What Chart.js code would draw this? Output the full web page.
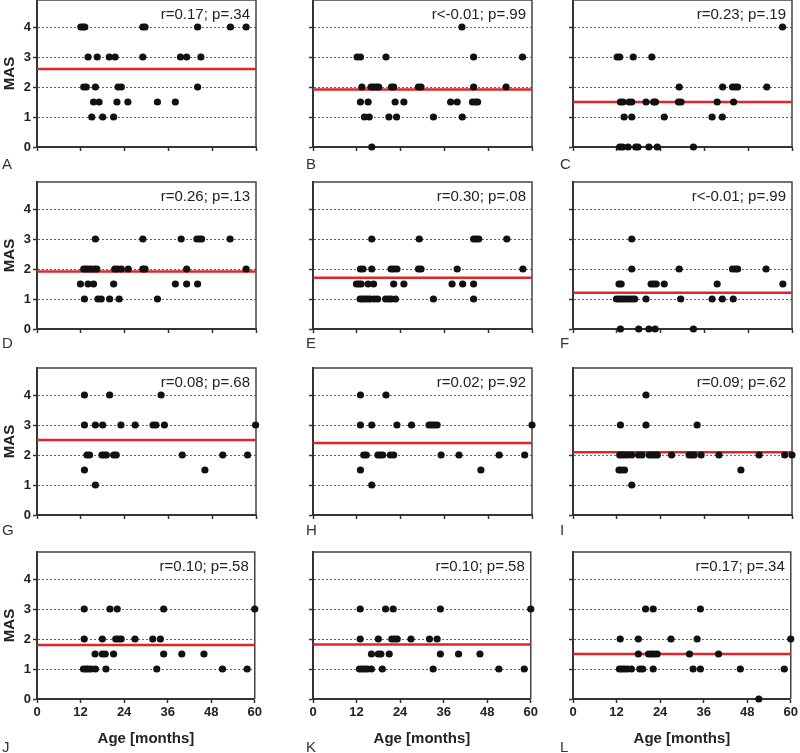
<!DOCTYPE html>
<html>
<head>
<meta charset="utf-8">
<script src="https://cdn.jsdelivr.net/npm/chart.js@4.4.1/dist/chart.umd.min.js"></script>
<style>
  body { margin: 0; width: 800px; height: 753px; overflow: hidden; background: #fff; position: relative;
         font-family: "Liberation Sans", Arial, sans-serif; }
  canvas { position: absolute; }
  .tag { position: absolute; font-size: 15px; line-height: 15px; color: #333; }
</style>
</head>
<body>
<script>
// each row: [MAS level, age in months, age, ...]
const panelA = [
  [4, 12, 12.6, 13.1, 29, 29.6, 44, 53, 57.3],
  [3, 14, 16.5, 19.8, 21.4, 29, 39.3, 41, 44.9],
  [2, 12.8, 13.5, 16, 22.2, 23.1, 44],
  [1.5, 15.5, 17, 21.9, 24.9, 33, 37.9],
  [1, 15, 18, 21],
];
const panelB = [
  [4, 40.8],
  [3, 12.1, 13, 20, 44, 57.4],
  [2, 13.4, 15.9, 16.6, 17.4, 18, 21.5, 22.1, 28.9, 29.6, 44, 52.9],
  [1.5, 13, 15.1, 22.5, 24.9, 37.7, 39.5, 43.7, 44.5, 45.1],
  [1, 14.1, 15.4, 20.8, 22.9, 33, 40.9],
  [0, 16.1],
];
const panelC = [
  [4, 57.4],
  [3, 12.1, 12.8, 16.5, 21.6],
  [2, 29.1, 41, 43.7, 44.5, 45.1, 53.1],
  [1.5, 13, 13.7, 15.4, 16.1, 20, 22.1, 22.6, 28.9, 29.6, 39.5, 44],
  [1, 14, 16.1, 25, 38.1, 40.9],
  [0, 12.8, 13.6, 15.1, 17.2, 17.8, 20.8, 23.1, 33],
];
const panelD = [
  [3, 16, 29, 39.5, 43.8, 44.5, 45.1, 52.9],
  [2, 12.8, 13.5, 14.2, 14.9, 15.8, 16.4, 21.3, 22.1, 23.1, 25, 29, 29.6, 41, 57.3],
  [1.5, 11.9, 14, 15.5, 21, 37.9, 41, 44],
  [1, 13, 16.7, 17.6, 19.9, 22.5, 33],
];
const panelE = [
  [3, 16.1, 29.1, 44, 44.7, 45.4, 53.1],
  [2, 13, 13.7, 16.1, 21.4, 22.1, 23, 28.9, 29.6, 39.5, 57.5],
  [1.5, 11.9, 12.6, 13.2, 15.1, 16.6, 22.1, 24.9, 38.1, 41, 44],
  [1, 12.9, 13.6, 14.2, 15, 15.7, 16.8, 17.7, 19.9, 20.7, 21.4, 22.6, 33, 44],
];
const panelF = [
  [3, 16.1],
  [2, 16.1, 29.1, 43.7, 44.5, 45.1, 52.9],
  [1.5, 12.6, 13.2, 21.4, 22.1, 22.8, 25, 39.5, 57.5],
  [1, 11.9, 12.6, 13.3, 14, 14.8, 15.5, 16.2, 16.9, 20, 29.5, 38.1, 40.9, 43.9],
  [0, 13, 18, 20.8, 22.5, 33],
];
const panelG = [
  [4, 13, 19.9, 34],
  [3, 13, 16, 18, 23, 26.9, 31.8, 32.6, 34.9, 59.9],
  [2, 13.7, 14.4, 17.8, 18.4, 19, 21, 21.7, 39.8, 50.9, 57.7],
  [1.5, 13, 46],
  [1, 16],
];
const panelH = [
  [4, 13, 20],
  [3, 13, 16.1, 23, 27, 31.8, 32.5, 33.2, 34, 60],
  [2, 13.9, 14.6, 17.8, 18.4, 19.1, 21.2, 22.1, 35.1, 40, 51, 58],
  [1.5, 13, 46],
  [1, 16.1],
];
const panelI = [
  [4, 20],
  [3, 13, 20, 34],
  [2, 12.8, 13.5, 14.2, 15, 16.1, 18, 18.9, 20.9, 21.6, 22.4, 23.1, 27, 31.8, 32.5, 33.2, 35.1, 40, 51, 58, 60],
  [1.5, 12.6, 13.3, 14.1, 46],
  [1, 16.1],
];
const panelJ = [
  [3, 13, 20.1, 22.1, 34.9, 60],
  [2, 13, 18, 21.7, 22.4, 23.2, 27, 31.9, 34],
  [1.5, 16, 18, 18.8, 21.1, 34.9, 39.9, 46],
  [1, 12.8, 13.5, 14.1, 14.9, 16.1, 19, 33, 51.1, 57.9],
];
const panelK = [
  [3, 13, 20, 22.1, 35.1, 60],
  [2, 13, 18, 21.7, 22.5, 23.2, 27, 32.1, 34.2],
  [1.5, 16.1, 18, 18.7, 21, 35.1, 40.1, 46],
  [1, 12.8, 13.5, 14.2, 15, 16.1, 19.1, 33.1, 51.2, 58.2],
];
const panelL = [
  [3, 20, 22.1, 35.1],
  [2, 13, 18, 27, 34.2, 60],
  [1.5, 18, 20.8, 21.6, 22.3, 23.2, 32.1, 40.1],
  [1, 12.8, 13.5, 14.2, 15, 16.1, 18.4, 19.2, 22.1, 33.1, 35.1, 46.1, 58.2],
  [0, 51.2],
];

const panels = [panelA, panelB, panelC, panelD, panelE, panelF, panelG, panelH, panelI, panelJ, panelK, panelL];
const letters = ["A", "B", "C", "D", "E", "F", "G", "H", "I", "J", "K", "L"];
const meanMAS = [2.6, 1.92, 1.5, 1.92, 1.71, 1.21, 2.5, 2.4, 2.09, 1.8, 1.82, 1.5];
const corrText = [
  "r=0.17; p=.34", "r<-0.01; p=.99", "r=0.23; p=.19",
  "r=0.26; p=.13", "r=0.30; p=.08", "r<-0.01; p=.99",
  "r=0.08; p=.68", "r=0.02; p=.92", "r=0.09; p=.62",
  "r=0.10; p=.58", "r=0.10; p=.58", "r=0.17; p=.34",
];
const ageTicks = [0, 12, 24, 36, 48, 60];

// layout of the grid
const plotLeft = [37, 313, 573];
const plotTop = [0, 182, 368, 552];
const plotW = 219;
const plotH = 147;
const letterLeft = [2, 306, 560];
const letterBase = [169, 348, 535, 752];

Chart.defaults.font.family = '"Liberation Sans", Arial, sans-serif';

// top/right frame + correlation text
const corrPlugin = {
  id: "corr",
  beforeDatasetsDraw(chart, args, opts) {
    const { ctx, chartArea: a } = chart;
    ctx.save();
    ctx.strokeStyle = "#444";
    ctx.lineWidth = 1.5;
    ctx.beginPath();
    ctx.moveTo(a.left, a.top);
    ctx.lineTo(a.right, a.top);
    ctx.lineTo(a.right, a.bottom);
    ctx.stroke();
    ctx.fillStyle = "#222";
    ctx.font = '15px "Liberation Sans", Arial, sans-serif';
    ctx.textAlign = "right";
    ctx.textBaseline = "alphabetic";
    ctx.fillText(opts.text, a.right - 6, a.top + 19);
    ctx.restore();
  },
};

panels.forEach((rows, i) => {
  const col = i % 3;
  const row = Math.floor(i / 3);
  const xAxisH = row === 3 ? 49 : 10;

  const canvas = document.createElement("canvas");
  canvas.width = 37 + plotW + 8;
  canvas.height = 10 + plotH + xAxisH;
  canvas.style.left = plotLeft[col] - 37 + "px";
  canvas.style.top = plotTop[row] - 10 + "px";
  document.body.appendChild(canvas);

  const tag = document.createElement("div");
  tag.className = "tag";
  tag.textContent = letters[i];
  tag.style.left = letterLeft[col] + "px";
  tag.style.top = letterBase[row] - 12.7 + "px";
  document.body.appendChild(tag);

  const points = [];
  rows.forEach((r) => {
    for (let k = 1; k < r.length; k++) points.push({ x: r[k], y: r[0] });
  });

  new Chart(canvas, {
    type: "scatter",
    data: {
      datasets: [
        {
          data: points,
          backgroundColor: "#111",
          borderColor: "#111",
          borderWidth: 0,
          pointRadius: 3.6,
          pointHoverRadius: 3.6,
          order: 1,
          clip: false,
        },
        {
          type: "line",
          data: [{ x: 0, y: meanMAS[i] }, { x: 60, y: meanMAS[i] }],
          borderColor: "#e0262d",
          borderWidth: 2.5,
          pointRadius: 0,
          showLine: true,
          order: 2,
        },
      ],
    },
    options: {
      responsive: false,
      animation: false,
      devicePixelRatio: 1,
      events: [],
      layout: { padding: { top: 10, right: 8, left: 0, bottom: 0 } },
      plugins: {
        legend: { display: false },
        tooltip: { enabled: false },
        corr: { text: corrText[i] },
      },
      scales: {
        x: {
          type: "linear",
          min: 0,
          max: 60,
          afterFit: (s) => { s.height = xAxisH; },
          afterBuildTicks: (s) => { s.ticks = ageTicks.map((v) => ({ value: v })); },
          ticks: {
            display: row === 3,
            color: "#222",
            padding: 2,
            maxRotation: 0,
            font: { size: 13, weight: "bold" },
          },
          grid: { drawOnChartArea: false, tickLength: 4, tickColor: "#333", tickWidth: 1.5 },
          border: { color: "#333", width: 2 },
          title: {
            display: row === 3,
            text: "Age [months]",
            color: "#222",
            font: { size: 15, weight: "bold" },
            padding: { top: 0, bottom: 0 },
          },
        },
        y: {
          min: 0,
          max: 4.9,
          afterFit: (s) => { s.width = 37; },
          ticks: {
            display: col === 0,
            stepSize: 1,
            includeBounds: false,
            color: "#222",
            padding: 2,
            font: { size: 13, weight: "bold" },
          },
          grid: {
            color: (c) => (c.tick && c.tick.value === 0 ? "rgba(0,0,0,0)" : "#666"),
            lineWidth: 1,
            tickLength: 4,
            tickColor: "#333",
            tickWidth: 1.5,
            tickBorderDash: [],
          },
          border: { color: "#333", width: 2, dash: [2, 2] },
          title: {
            display: col === 0,
            text: "MAS",
            color: "#222",
            font: { size: 15, weight: "bold" },
            padding: { top: 1, bottom: 0 },
          },
        },
      },
    },
    plugins: [corrPlugin],
  });
});
</script>
</body>
</html>
